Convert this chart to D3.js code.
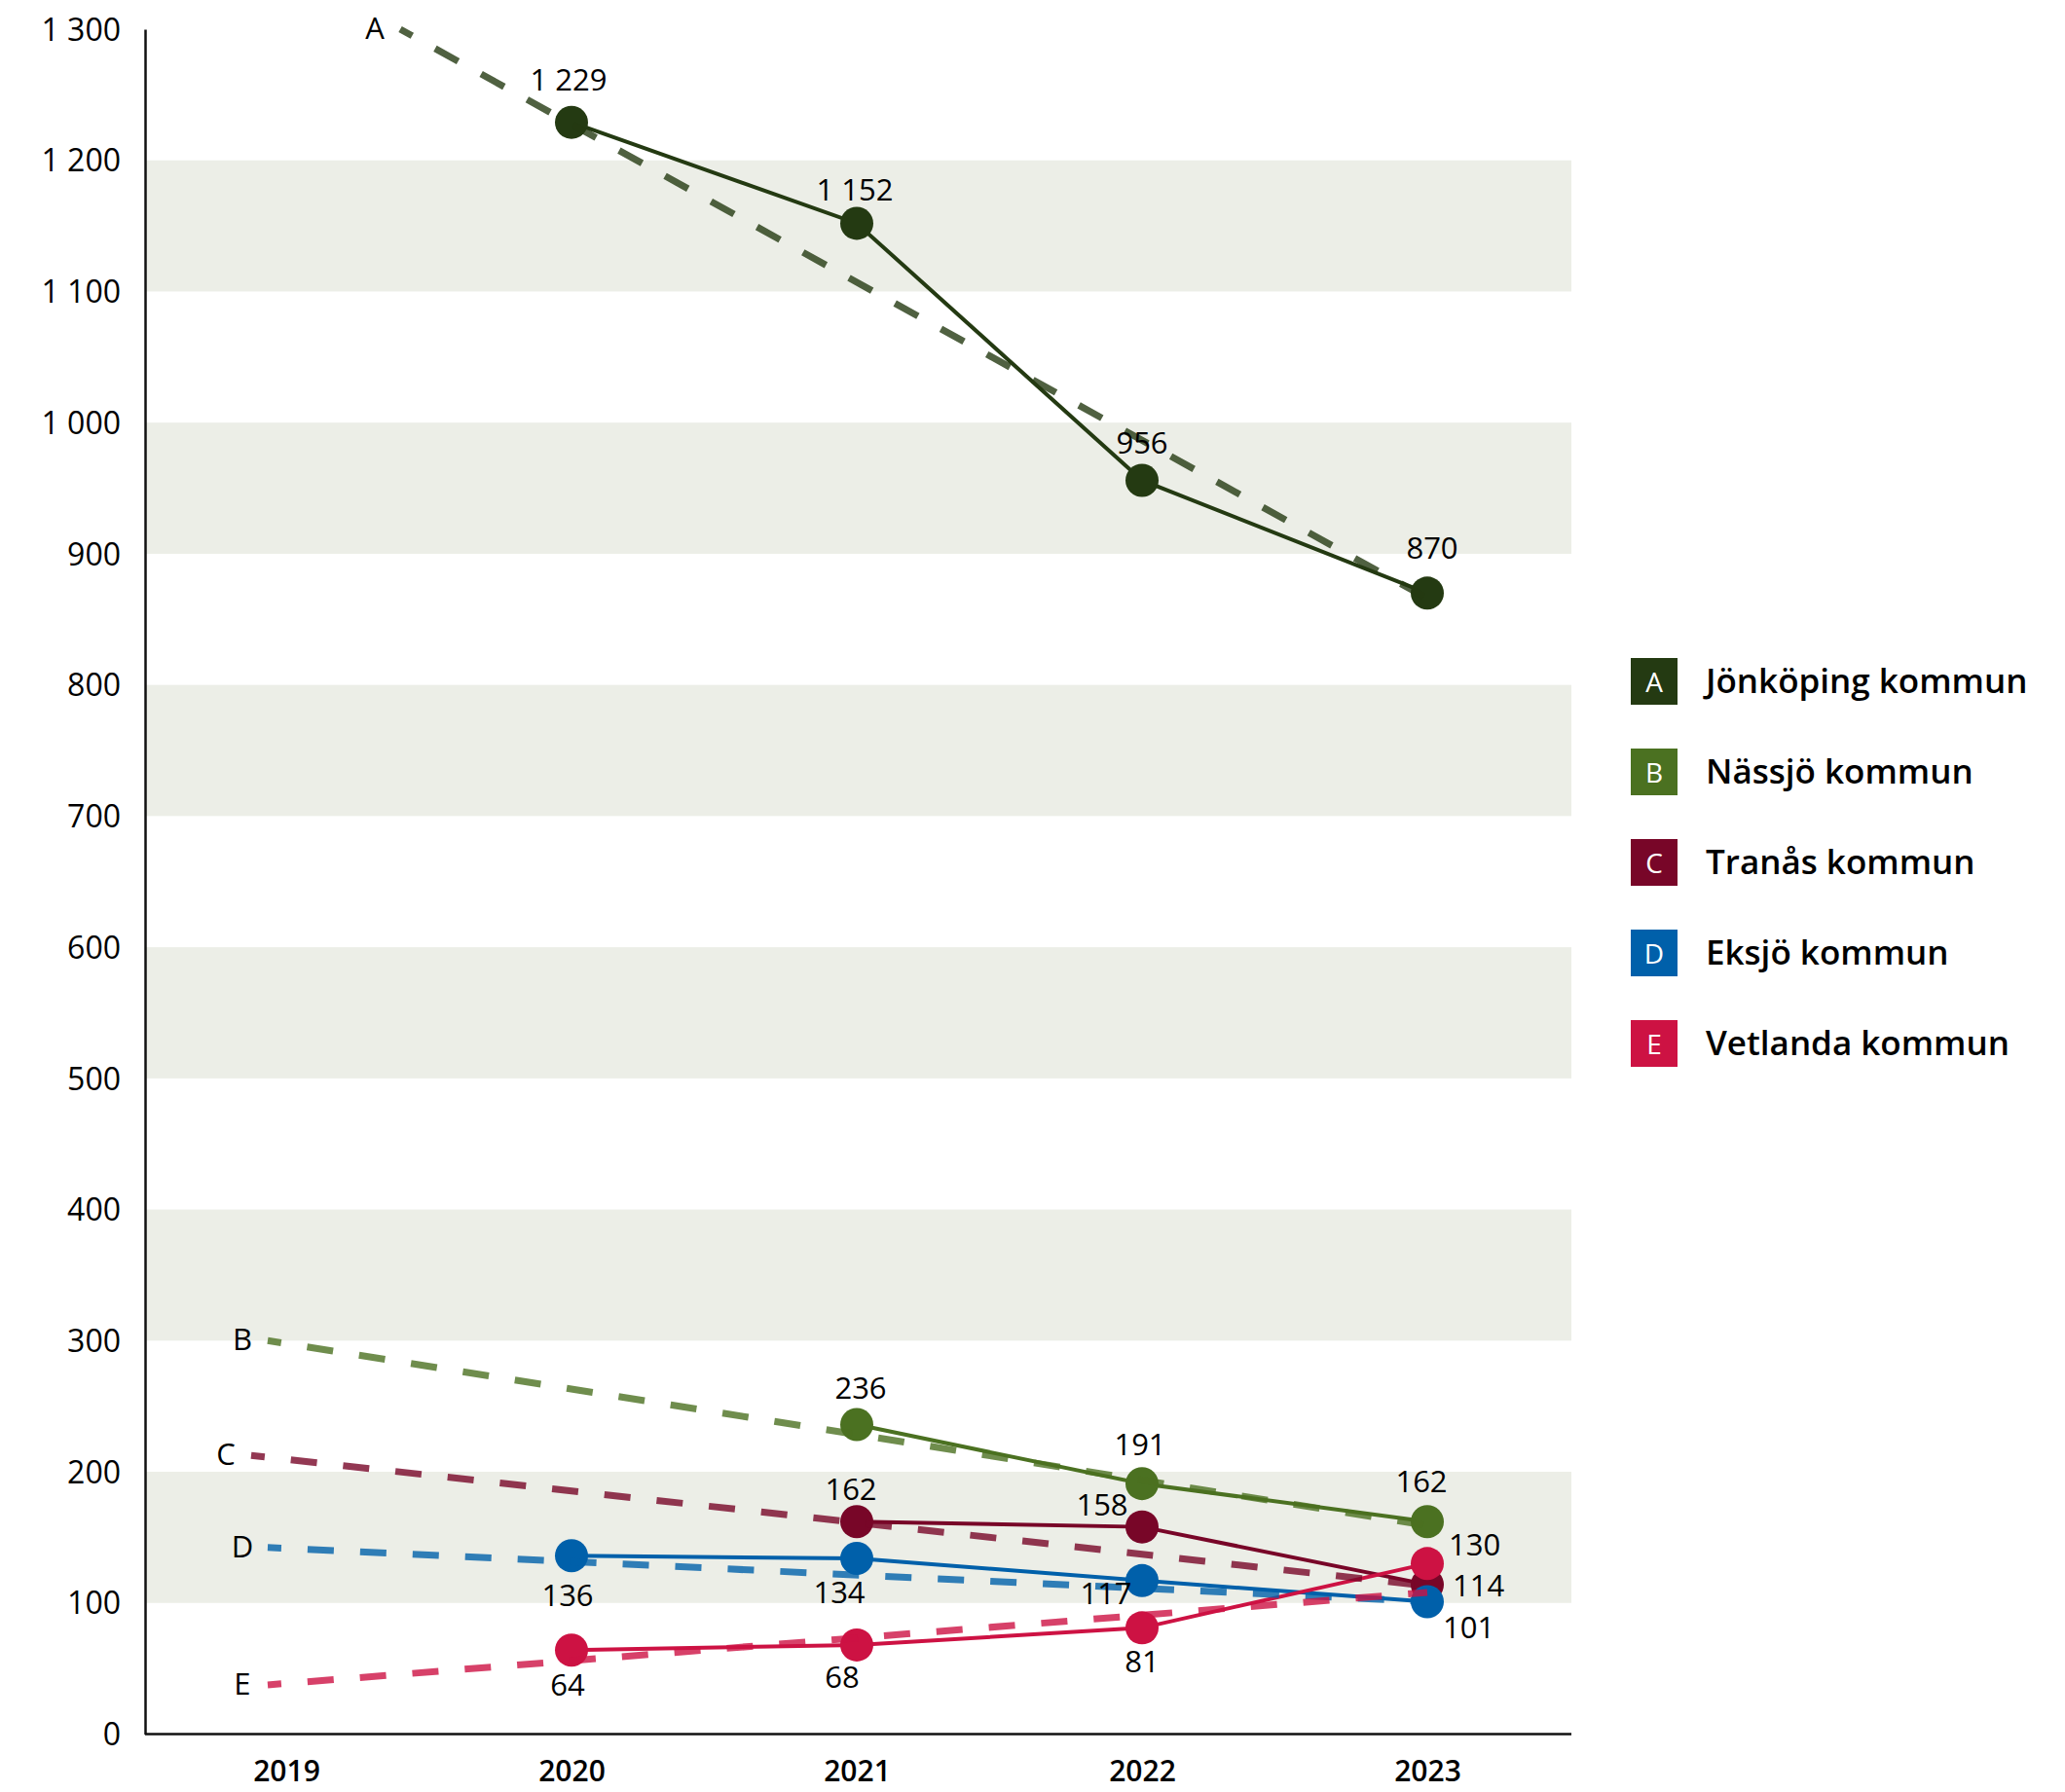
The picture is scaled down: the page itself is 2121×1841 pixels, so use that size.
<!DOCTYPE html>
<html lang="sv">
<head>
<meta charset="utf-8">
<script src="https://cdn.jsdelivr.net/npm/d3@7"></script>
<style>
  html, body { margin: 0; padding: 0; background: #ffffff; }
  svg { display: block; font-family: "Open Sans", "Noto Sans", sans-serif; }
</style>
</head>
<body>
<svg id="chart" width="2121" height="1841"></svg>
<script>
// ---- Data -------------------------------------------------------------
const years = [2019, 2020, 2021, 2022, 2023];
const seriesKeys = ["A", "B", "C", "D", "E"];
const seriesNames = ["Jönköping kommun", "Nässjö kommun", "Tranås kommun", "Eksjö kommun", "Vetlanda kommun"];

const jonkoping = [null, 1229, 1152, 956, 870];
const nassjo    = [null, null, 236, 191, 162];
const tranas    = [null, null, 162, 158, 114];
const eksjo     = [null, 136, 134, 117, 101];
const vetlanda  = [null, 64, 68, 81, 130];
const seriesValues = [jonkoping, nassjo, tranas, eksjo, vetlanda];

// Trend lines: value at the start year and at 2023
const trendStartYear  = [2018.935, 2018.935, 2018.877, 2018.935, 2018.935];
const trendStartValue = [1356, 300, 212.5, 142.3, 37.5];
const trendEndValue   = [866, 159, 113, 101, 108];

const yTicks = [0, 100, 200, 300, 400, 500, 600, 700, 800, 900, 1000, 1100, 1200, 1300];
const shadedBands = [[100, 200], [300, 400], [500, 600], [700, 800], [900, 1000], [1100, 1200]];

// ---- Style -----------------------------------------------------------
const colors = ["#243a12", "#4b7121", "#780628", "#0060aa", "#cd1243"];

// Value label placement per point: [dx, dy(baseline), anchor]
const labelPlacement = [
  [null, [-3, -33, "middle"], [-2, -23, "middle"], [0, -27, "middle"], [5, -35, "middle"]],
  [null, null, [4, -27, "middle"], [-2, -29, "middle"], [-6, -30, "middle"]],
  [null, null, [-6, -22, "middle"], [-41, -12, "middle"], [26, 12, "start"]],
  [null, [-4, 52, "middle"], [-18, 46, "middle"], [-37, 24, "middle"], [16, 38, "start"]],
  [null, [-4, 47, "middle"], [-15, 44, "middle"], [0, 46, "middle"], [22, -8, "start"]]
];

// ---- Scales ----------------------------------------------------------
const plotLeft = 149, plotRight = 1614;
const x = d3.scaleLinear().domain([2019, 2023]).range([294, 1466]);
const y = d3.scaleLinear().domain([0, 1300]).range([1781.5, 30]);

const fmt = d3.formatLocale({ decimal: ",", thousands: "\u2009", grouping: [3], currency: ["", ""] }).format(",d");
const fmtLabel = v => fmt(v).replace("\u2009", " ");

const svg = d3.select("#chart");

// ---- Background bands --------------------------------------------------
svg.append("g").selectAll("rect")
  .data(shadedBands)
  .join("rect")
  .attr("x", plotLeft)
  .attr("width", plotRight - plotLeft)
  .attr("y", d => y(d[1]))
  .attr("height", d => y(d[0]) - y(d[1]))
  .attr("fill", "#eceee7");

// ---- Axes --------------------------------------------------------------
const yAxis = d3.axisLeft(y).tickValues(yTicks).tickSize(0).tickPadding(25).tickFormat(fmtLabel);
const gy = svg.append("g").attr("transform", `translate(${plotLeft},0)`).call(yAxis);
gy.select(".domain").attr("stroke", "#111").attr("stroke-width", 2.5);
gy.selectAll("text")
  .attr("font-size", 32)
  .attr("font-family", "'Open Sans', sans-serif")
  .attr("fill", "#000")
  .attr("dy", "0.35em");

const xAxis = d3.axisBottom(x).tickValues(years).tickSize(0).tickPadding(27).tickFormat(d3.format("d"));
const gx = svg.append("g").attr("transform", `translate(0,${y(0)})`).call(xAxis);
gx.select(".domain").remove();
gx.selectAll("text")
  .attr("font-size", 30)
  .attr("font-weight", 600)
  .attr("font-family", "'Open Sans', sans-serif")
  .attr("fill", "#000")
  .attr("dy", "0.71em");
svg.append("line")
  .attr("x1", plotLeft).attr("x2", plotRight)
  .attr("y1", y(0)).attr("y2", y(0))
  .attr("stroke", "#111").attr("stroke-width", 2.5);

// ---- Solid series lines and markers --------------------------------------
const line = d3.line()
  .defined(d => d.v != null)
  .x(d => x(d.year))
  .y(d => y(d.v));

const seriesData = seriesKeys.map((k, i) => ({
  key: k,
  color: colors[i],
  points: years.map((yr, j) => ({ year: yr, v: seriesValues[i][j], place: labelPlacement[i][j] }))
}));

const gSeries = svg.append("g");
seriesData.forEach(s => {
  gSeries.append("path")
    .attr("d", line(s.points))
    .attr("fill", "none")
    .attr("stroke", s.color)
    .attr("stroke-width", 4);
});
seriesData.forEach(s => {
  gSeries.append("g").selectAll("circle")
    .data(s.points.filter(p => p.v != null))
    .join("circle")
    .attr("cx", p => x(p.year))
    .attr("cy", p => y(p.v))
    .attr("r", 17)
    .attr("fill", s.color);
});

// ---- Dashed trend lines -------------------------------------------------
const gTrend = svg.append("g");
seriesKeys.forEach((k, i) => {
  let y0 = trendStartYear[i], v0 = trendStartValue[i];
  const y1 = 2023, v1 = trendEndValue[i];
  const top = y.domain()[1];
  if (v0 > top) {
    // start where the trend enters the plotted range
    y0 = y0 + (top - v0) / (v1 - v0) * (y1 - y0);
    v0 = top;
  }
  gTrend.append("line")
    .attr("x1", x(y0)).attr("y1", y(v0))
    .attr("x2", x(y1)).attr("y2", y(v1))
    .attr("stroke", colors[i])
    .attr("stroke-opacity", 0.8)
    .attr("stroke-width", 7)
    .attr("stroke-dasharray", "27 27")
    .attr("stroke-dashoffset", 13);
  gTrend.append("text")
    .attr("x", x(y0) - 26)
    .attr("y", y(v0) - 2)
    .attr("text-anchor", "middle")
    .attr("dominant-baseline", "central")
    .attr("font-size", 31)
    .attr("font-weight", 500)
    .attr("fill", "#000")
    .text(k);
});

// ---- Value labels -----------------------------------------------------
const gLabels = svg.append("g");
seriesData.forEach(s => {
  gLabels.selectAll(null)
    .data(s.points.filter(p => p.v != null))
    .join("text")
    .attr("x", p => x(p.year) + p.place[0])
    .attr("y", p => y(p.v) + p.place[1])
    .attr("text-anchor", p => p.place[2])
    .attr("font-size", 31)
    .attr("font-weight", 500)
    .attr("fill", "#000")
    .text(p => fmtLabel(p.v));
});

// ---- Legend -------------------------------------------------------------
const legend = svg.append("g").attr("transform", "translate(1675,676)");
const rowStep = 93;
const item = legend.selectAll("g")
  .data(seriesKeys)
  .join("g")
  .attr("transform", (d, i) => `translate(0,${i * rowStep})`);
item.append("rect")
  .attr("width", 48).attr("height", 48)
  .attr("fill", (d, i) => colors[i]);
item.append("text")
  .attr("x", 24).attr("y", 24)
  .attr("text-anchor", "middle")
  .attr("dominant-baseline", "central")
  .attr("font-size", 28)
  .attr("font-weight", 500)
  .attr("fill", "#fff")
  .text(d => d);
item.append("text")
  .attr("x", 77).attr("y", 36)
  .attr("font-size", 35)
  .attr("font-weight", 600)
  .attr("fill", "#000")
  .text((d, i) => seriesNames[i]);
</script>
</body>
</html>
